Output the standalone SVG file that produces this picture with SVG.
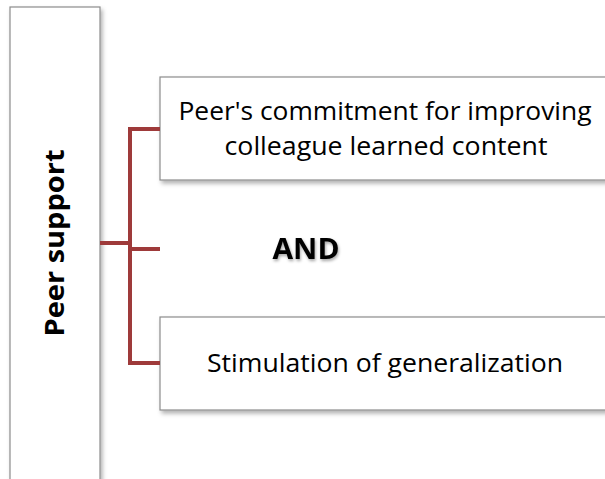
<svg xmlns="http://www.w3.org/2000/svg" width="605" height="479" viewBox="0 0 605 479">
<defs>
<filter id="sh" x="-10%" y="-10%" width="130%" height="130%">
<feDropShadow dx="2" dy="3" stdDeviation="2" flood-color="#000" flood-opacity="0.3"/>
</filter>
<filter id="tsh" x="-20%" y="-20%" width="140%" height="160%">
<feDropShadow dx="1" dy="2" stdDeviation="1.5" flood-color="#000" flood-opacity="0.35"/>
</filter>
</defs>
<style>
.box{fill:#fff;stroke:#8c8c8c;stroke-width:1.2}
.t{font-family:"Open Sans","Liberation Sans",Arial,sans-serif;font-size:25px;fill:#000;text-anchor:middle}
.b{font-family:"Open Sans","Liberation Sans",Arial,sans-serif;font-weight:bold;fill:#000;text-anchor:middle}
.c{fill:none;stroke:#9e3a3a;stroke-width:4}
</style>
<g id="peer-support">
<rect class="box" x="10" y="7" width="90" height="480" filter="url(#sh)"/>
<text class="b" font-size="27" transform="translate(64,243) rotate(-90)" textLength="187" lengthAdjust="spacingAndGlyphs">Peer support</text>
</g>
<g id="commitment">
<rect class="box" x="160" y="77" width="455" height="103" filter="url(#sh)"/>
<text class="t" x="385" y="120" textLength="413" lengthAdjust="spacingAndGlyphs">Peer's commitment for improving</text>
<text class="t" x="386" y="155" textLength="323" lengthAdjust="spacingAndGlyphs">colleague learned content</text>
</g>
<g id="and">
<text class="b" font-size="29" x="306" y="259" filter="url(#tsh)" textLength="67" lengthAdjust="spacingAndGlyphs">AND</text>
</g>
<g id="generalization">
<rect class="box" x="160" y="317" width="455" height="93" filter="url(#sh)"/>
<text class="t" x="385" y="372" textLength="356" lengthAdjust="spacingAndGlyphs">Stimulation of generalization</text>
</g>
<g id="connectors">
<path class="c" d="M160,129 H130 V363 H160"/>
<path class="c" d="M100,243 H130"/>
<path class="c" d="M130,249 H160"/>
</g>
</svg>
